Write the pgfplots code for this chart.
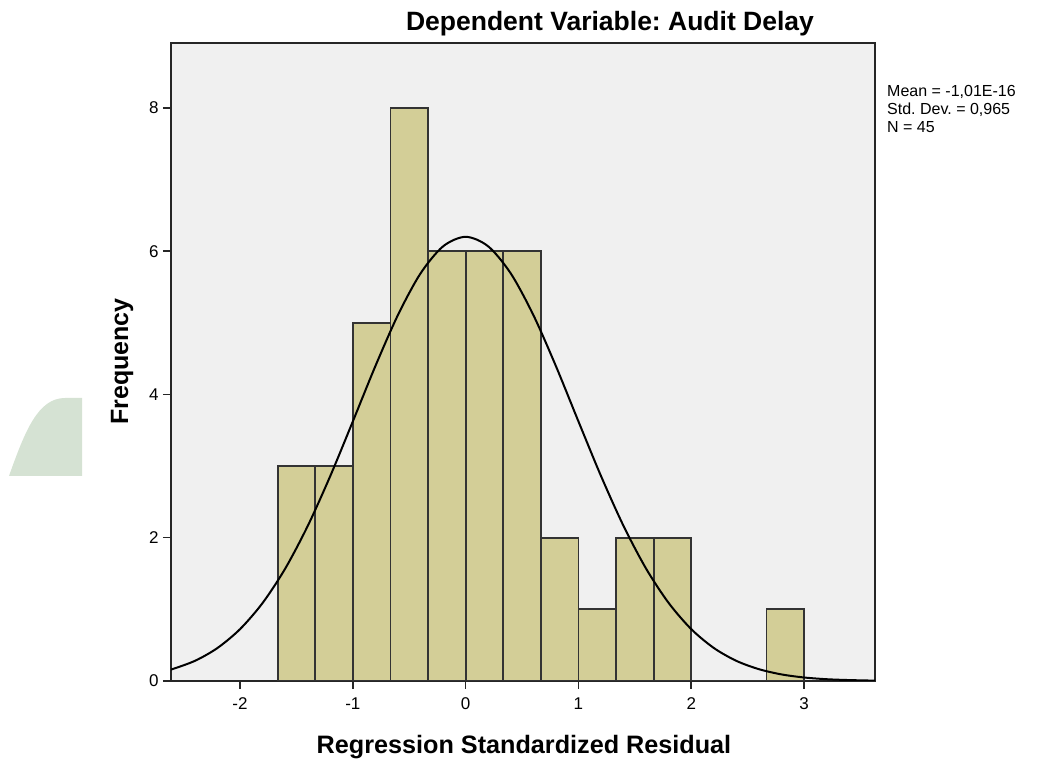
\documentclass[border=0pt]{standalone}
\usepackage{pgfplots}
\pgfplotsset{compat=1.18}
\usepackage{fontspec}
\setmainfont{Liberation Sans}
\frenchspacing
\definecolor{bgray}{HTML}{F0F0F0}
\definecolor{barfill}{HTML}{D3CE97}
\definecolor{baredge}{HTML}{333333}
\definecolor{leaf}{HTML}{D5E2D3}
\begin{document}
\begin{tikzpicture}[x=1pt,y=1pt]
\path[use as bounding box] (0,0) rectangle (1037,761);
\fill[leaf] (9,285) .. controls (25,330) and (38,363) .. (65,363) -- (82,363) -- (82,285) -- cycle;
\begin{axis}[
  at={(171pt,80pt)}, anchor=south west,
  scale only axis, width=704pt, height=638pt,
  xmin=-2.612, xmax=3.629, ymin=0, ymax=8.907,
  xtick={-2,-1,0,1,2,3}, ytick={0,2,4,6,8},
  tick pos=left, tick align=outside, major tick length=8pt,
  tick style={black!85, line width=1.5pt},
  axis line style={black!85, line width=1.8pt},
  axis background/.style={fill=bgray},
  /pgf/number format/assume math mode=true,
  ticklabel style={font=\fontsize{17}{17}\selectfont},
  xticklabel style={yshift=-5pt},
  yticklabel style={xshift=-1pt},
]
\addplot[ybar interval, fill=barfill, draw=baredge, line width=1.8pt] coordinates {
(-1.6667,3) (-1.3333,3) (-1,5) (-0.6667,8) (-0.3333,6) (0,6) (0.3333,6) (0.6667,2) (1,1) (1.3333,2) (1.6667,2) (2,0) (2.3333,0) (2.6667,1) (3,1)
};
\addplot[smooth, black, line width=2pt] coordinates {
(-2.612,0.159) (-2.4,0.281) (-2.2,0.461) (-2.0,0.724) (-1.8,1.089) (-1.6,1.568) (-1.4,2.164) (-1.2,2.862) (-1.0,3.624) (-0.8,4.397) (-0.6,5.110) (-0.4,5.690) (-0.2,6.068) (0,6.201) (0.2,6.068) (0.4,5.690) (0.6,5.110) (0.8,4.397) (1.0,3.624) (1.2,2.862) (1.4,2.164) (1.6,1.568) (1.8,1.089) (2.0,0.724) (2.2,0.461) (2.4,0.281) (2.6,0.165) (2.8,0.092) (3.0,0.049) (3.2,0.025) (3.4,0.013) (3.629,0.005)
};
\end{axis}
\node[anchor=base, font=\fontsize{26.5}{26.5}\selectfont\bfseries] at (610,730) {Dependent Variable: Audit Delay};
\node[anchor=base, font=\fontsize{25.2}{25.2}\selectfont\bfseries] at (524,8) {Regression Standardized Residual};
\node[anchor=base, rotate=90, font=\fontsize{25}{25}\selectfont\bfseries] at (128,399.5) {Frequency};
\node[anchor=base west, inner sep=0pt, font=\fontsize{16}{16}\selectfont] at (887,664) {Mean = -1,01E-16};
\node[anchor=base west, inner sep=0pt, font=\fontsize{16}{16}\selectfont] at (887,646) {Std. Dev. = 0,965};
\node[anchor=base west, inner sep=0pt, font=\fontsize{16}{16}\selectfont] at (887,628) {N = 45};
\end{tikzpicture}
\end{document}
